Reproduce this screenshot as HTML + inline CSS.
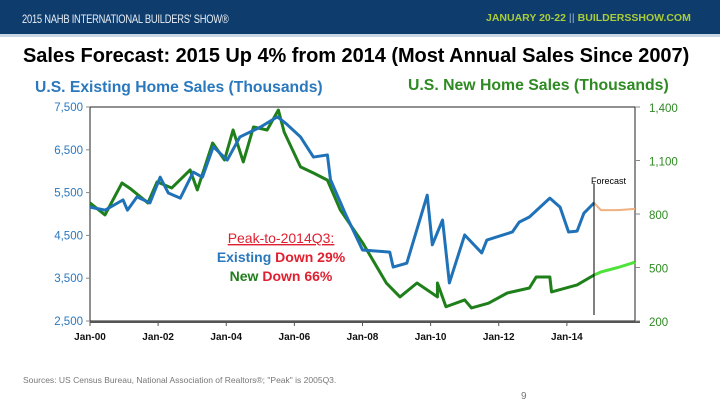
<!DOCTYPE html>
<html><head><meta charset="utf-8">
<style>
body{margin:0;width:720px;height:405px;background:#fff;font-family:"Liberation Sans",sans-serif;overflow:hidden;position:relative}
.hdr{position:absolute;left:0;top:0;width:720px;height:34px;background:#0e3c6c;border-bottom:3px solid #c9d6e3}
.abs{position:absolute;white-space:nowrap}
</style></head><body>
<div class="hdr">
 <div class="abs" style="left:22px;top:12px;color:#e8eef5;font-size:12px;letter-spacing:-0.3px;transform:scaleX(0.78);transform-origin:left">2015 NAHB INTERNATIONAL BUILDERS' SHOW®</div>
 <div class="abs" style="left:486px;top:12px;color:#a9cc3a;font-size:10.5px;font-weight:bold">JANUARY 20-22 <span style="color:#6f8fb0">||</span> BUILDERSSHOW.COM</div>
</div>
<div class="abs" style="left:23px;top:45px;font-size:20px;font-weight:bold;color:#000;letter-spacing:-0.05px">Sales Forecast: 2015 Up 4% from 2014 (Most Annual Sales Since 2007)</div>
<div class="abs" style="left:35px;top:79px;font-size:15.7px;font-weight:bold;color:#2a78bd">U.S. Existing Home Sales (Thousands)</div>
<div class="abs" style="left:408px;top:77px;font-size:15.8px;font-weight:bold;color:#2e8a22">U.S. New Home Sales (Thousands)</div>
<svg id="chart" class="abs" style="left:0;top:0" width="720" height="405"></svg>
<div class="abs" style="left:23px;top:375px;font-size:8.5px;color:#777">Sources: US Census Bureau, National Association of Realtors®; "Peak" is 2005Q3.</div>
<div class="abs" style="left:521px;top:391px;font-size:10px;color:#777">9</div>
<script>
const existingYears=[2000,2000.44,2000.97,2001.1,2001.38,2001.76,2002.06,2002.3,2002.65,2003.03,2003.3,2003.62,2004.03,2004.4,2005.0,2005.5,2005.76,2006.18,2006.56,2006.97,2007.06,2007.5,2008.0,2008.8,2008.9,2009.3,2009.9,2010.05,2010.35,2010.55,2011.0,2011.5,2011.65,2012.4,2012.6,2012.9,2013.5,2013.8,2014.05,2014.3,2014.5,2014.8];
const existingSales=[5160,5090,5330,5090,5400,5260,5860,5490,5370,5980,5860,6570,6260,6800,7030,7270,7110,6800,6330,6380,5800,5000,4160,4110,3760,3850,5440,4280,4860,3390,4510,4090,4390,4580,4810,4930,5370,5160,4580,4600,5020,5260];
const newYears=[2000,2000.44,2000.94,2001.2,2001.7,2001.97,2002.4,2002.94,2003.15,2003.6,2003.95,2004.2,2004.5,2004.8,2005.2,2005.53,2005.7,2006.18,2006.56,2006.97,2007.35,2008.0,2008.7,2009.1,2009.6,2010.2,2010.2,2010.45,2011.0,2011.2,2011.7,2012.25,2012.9,2013.1,2013.5,2013.55,2014.3,2014.8];
const newSales=[862,795,974,940,862,980,946,1047,935,1198,1103,1271,1092,1288,1271,1383,1260,1064,1030,990,822,640,413,335,413,335,413,280,318,273,300,357,385,447,447,363,402,458];
const fcYears=[2014.8,2015.0,2015.5,2016.0];
const fcExisting=[5260,5090,5090,5120];
const fcNew=[458,475,500,530];
const xTicks=["Jan-00","Jan-02","Jan-04","Jan-06","Jan-08","Jan-10","Jan-12","Jan-14"];
const leftTicks=[2500,3500,4500,5500,6500,7500];
const rightTicks=[200,500,800,1100,1400];
const X0=90,X1=635,Y0=107,Y1=321;
const x=t=>X0+(t-2000)/16*(X1-X0);
const yL=v=>Y1-(v-2500)/5000*(Y1-Y0);
const yR=v=>Y1-(v-200)/1200*(Y1-Y0);
const svg=document.getElementById('chart');const NS='http://www.w3.org/2000/svg';
function mk(tag,a,txt){const e=document.createElementNS(NS,tag);for(const k in a)e.setAttribute(k,a[k]);if(txt!==undefined)e.textContent=txt;svg.appendChild(e);return e;}
let e;
e=mk('rect',{x:X0,y:Y0,width:X1-X0,height:Y1-Y0,fill:'none',stroke:'#222','stroke-width':1});

e=mk('line',{x1:X0,y1:Y1+1,x2:X1+5,y2:Y1+1,stroke:'#555','stroke-width':2});

xTicks.forEach((l,i)=>{const xx=x(2000+2*i);
 e=mk('line',{x1:xx,y1:Y1,x2:xx,y2:Y1+5,stroke:'#555'});
 e=mk('text',{x:xx,y:Y1+19,'text-anchor':'middle','font-size':'10','font-weight':'bold',fill:'#111'},l);});
leftTicks.forEach(v=>{const yy=yL(v);
 e=mk('line',{x1:X0-4,y1:yy,x2:X0,y2:yy,stroke:'#888'});
 e=mk('text',{x:X0-7,y:yy+4,'text-anchor':'end','font-size':'11.5',fill:'#2a78bd'},v.toLocaleString('en-US'));});
rightTicks.forEach(v=>{const yy=yR(v);
 e=mk('line',{x1:X1,y1:yy,x2:X1+5,y2:yy,stroke:'#888'});
 e=mk('text',{x:X1+14,y:yy+5,'font-size':'11.5',fill:'#2e8a22'},v.toLocaleString('en-US'));});
function line(xs,vs,sc,col,w,name){e=mk('polyline',{points:xs.map((t,i)=>x(t)+','+sc(vs[i])).join(' '),fill:'none',stroke:col,'stroke-width':w,'stroke-linejoin':'round'});}
line(newYears,newSales,yR,'#1f7f1a',3,'new-home-sales-line');
line(existingYears,existingSales,yL,'#1f72b8',3,'existing-home-sales-line');
line(fcYears,fcExisting,yL,'#f0b080',2,'existing-forecast-line');
line(fcYears,fcNew,yR,'#4ee23a',3,'new-forecast-line');
e=mk('line',{x1:594,y1:183,x2:594,y2:315,stroke:'#000','stroke-width':1});
e=mk('text',{x:591,y:184,'font-size':'9',fill:'#000'},'Forecast');
e=mk('text',{x:281,y:243,'text-anchor':'middle','font-size':'14',fill:'#e02030','text-decoration':'underline'},'Peak-to-2014Q3:');
e=mk('text',{x:281,y:262,'text-anchor':'middle','font-size':'14','font-weight':'bold'});
e.innerHTML='<tspan fill="#2a78bd">Existing </tspan><tspan fill="#e02030">Down 29%</tspan>';
e=mk('text',{x:281,y:281,'text-anchor':'middle','font-size':'14','font-weight':'bold'});
e.innerHTML='<tspan fill="#1f7f1a">New </tspan><tspan fill="#e02030">Down 66%</tspan>';
</script>
</body></html>
